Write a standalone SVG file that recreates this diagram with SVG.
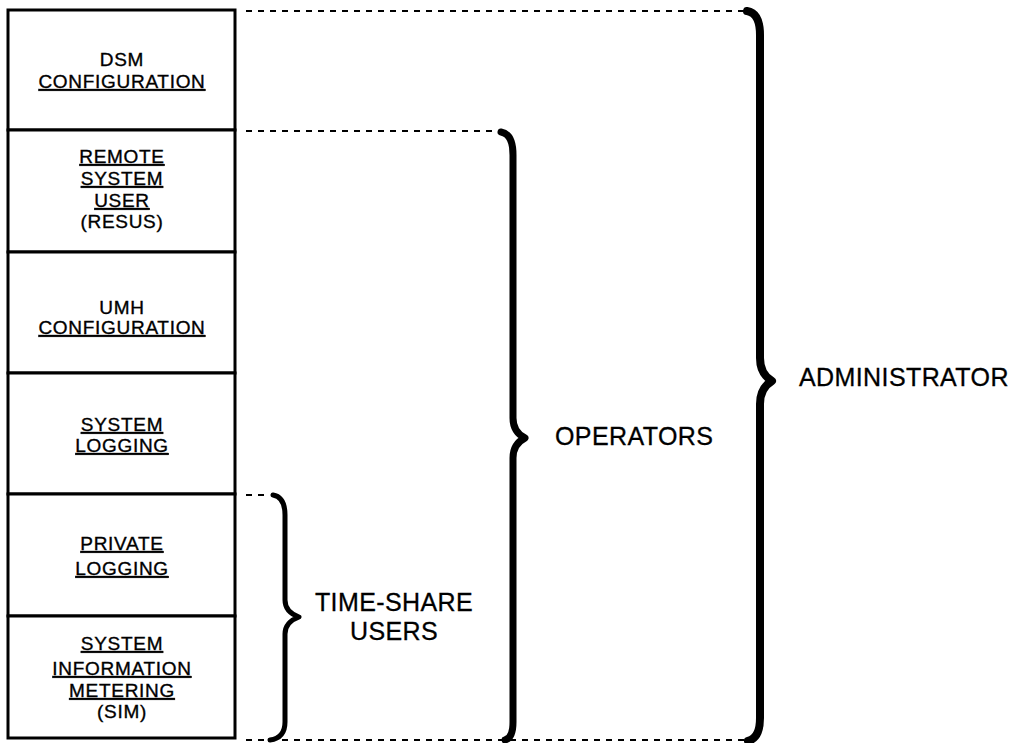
<svg xmlns="http://www.w3.org/2000/svg" width="1022" height="743" viewBox="0 0 1022 743">
  <style>
    .box { fill: #fff; stroke: #000; stroke-width: 3; }
    .lbl { font-family: "Liberation Sans", Arial, sans-serif; font-size: 19px; letter-spacing: 0.7px; text-anchor: middle; fill: #000; stroke: #000; stroke-width: 0.35px; }
    .u { text-decoration: underline; }
    .big { font-family: "Liberation Sans", Arial, sans-serif; font-size: 25px; letter-spacing: 0.4px; fill: #000; stroke: #000; stroke-width: 0.3px; }
    .dash { stroke: #000; stroke-width: 2; stroke-dasharray: 6 6; fill: none; }
    .brace { stroke: #000; fill: none; stroke-linecap: round; stroke-linejoin: round; }
  </style>
  <rect width="1022" height="743" fill="#fff"/>

  <!-- stacked function boxes -->
  <g id="dsm-configuration">
    <rect class="box" x="8" y="10" width="227" height="120"/>
    <text class="lbl" x="122" y="66">DSM</text>
    <text class="lbl u" x="122" y="88">CONFIGURATION</text>
  </g>
  <g id="remote-system-user">
    <rect class="box" x="8" y="130" width="227" height="122"/>
    <text class="lbl u" x="122" y="163">REMOTE</text>
    <text class="lbl u" x="122" y="185">SYSTEM</text>
    <text class="lbl u" x="122" y="207">USER</text>
    <text class="lbl" x="122" y="228">(RESUS)</text>
  </g>
  <g id="umh-configuration">
    <rect class="box" x="8" y="252" width="227" height="121"/>
    <text class="lbl" x="122" y="314">UMH</text>
    <text class="lbl u" x="122" y="334">CONFIGURATION</text>
  </g>
  <g id="system-logging">
    <rect class="box" x="8" y="373" width="227" height="121"/>
    <text class="lbl u" x="122" y="431">SYSTEM</text>
    <text class="lbl u" x="122" y="452">LOGGING</text>
  </g>
  <g id="private-logging">
    <rect class="box" x="8" y="494" width="227" height="122"/>
    <text class="lbl u" x="122" y="550">PRIVATE</text>
    <text class="lbl u" x="122" y="575">LOGGING</text>
  </g>
  <g id="system-information-metering">
    <rect class="box" x="8" y="616" width="227" height="122"/>
    <text class="lbl u" x="122" y="650">SYSTEM</text>
    <text class="lbl u" x="122" y="675">INFORMATION</text>
    <text class="lbl u" x="122" y="697">METERING</text>
    <text class="lbl" x="122" y="718">(SIM)</text>
  </g>

  <!-- dashed leaders and grouping braces -->
  <g id="connectors">
    <line class="dash" x1="246" y1="11" x2="745" y2="11"/>
    <line class="dash" x1="246" y1="131" x2="500" y2="131"/>
    <line class="dash" x1="246" y1="495" x2="266" y2="495"/>
    <line class="dash" x1="246" y1="740" x2="748" y2="740"/>

    <path class="brace" stroke-width="5" d="M273,495 Q285,497 285,515 L285,600 Q285,612 299,617 Q285,622 285,634 L285,722 Q285,738 270,740"/>
    <path class="brace" stroke-width="7" d="M501,132 Q513,134 513,155 L513,418 Q513,432 525,438 Q513,444 513,458 L513,722 Q513,738 505,740"/>
    <path class="brace" stroke-width="8" d="M747,11 Q760,13 760,35 L760,358 Q760,374 772,381 Q760,388 760,404 L760,718 Q760,738 748,741"/>
  </g>

  <!-- group labels -->
  <g id="time-share-users">
    <text class="big" x="394" y="611" text-anchor="middle" letter-spacing="0.8">TIME-SHARE</text>
    <text class="big" x="394" y="640" text-anchor="middle">USERS</text>
  </g>
  <g id="operators">
    <text class="big" x="555" y="445">OPERATORS</text>
  </g>
  <g id="administrator">
    <text class="big" x="799" y="386" letter-spacing="0.9">ADMINISTRATOR</text>
  </g>
</svg>
